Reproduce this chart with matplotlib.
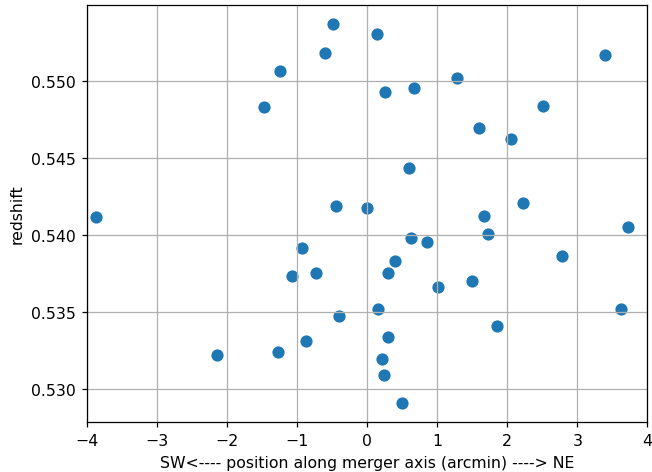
import numpy as np
import matplotlib
matplotlib.use('Agg')
import matplotlib.pyplot as plt

# position along merger axis (arcmin) and redshift of member galaxies
pos = [-3.87, -1.467, -1.249, -0.608, -0.494, 0.142, -0.446, 0.004,
       0.256, 0.665, 1.282, 3.390, 2.507, 1.600, 2.051, 0.594,
       2.232, 1.662, 3.718, 1.728, 0.622, 0.855, 2.788, 0.399,
       0.294, 1.491, 1.007, 0.161, 3.628, 1.857, 0.299, 0.218,
       0.238, 0.494, -0.926, -0.736, -1.078, -0.408, -0.874, -1.268,
       -2.137]
z = [0.54118, 0.54830, 0.55068, 0.55185, 0.55373, 0.55306, 0.54186, 0.54173,
     0.54927, 0.54957, 0.55020, 0.55170, 0.54838, 0.54693, 0.54626, 0.54433,
     0.54207, 0.54125, 0.54049, 0.54004, 0.53978, 0.53954, 0.53863, 0.53832,
     0.53752, 0.53698, 0.53663, 0.53518, 0.53518, 0.53410, 0.53334, 0.53193,
     0.53089, 0.52905, 0.53913, 0.53752, 0.53735, 0.53471, 0.53312, 0.53241,
     0.53219]

dpi = 113
fig, ax = plt.subplots(figsize=(652/dpi, 473/dpi), dpi=dpi)
fig.subplots_adjust(left=0.1334, right=0.9928, top=0.988, bottom=0.105)

ax.scatter(pos, z, s=46, color='#1f77b4')
ax.set_xlim(-4, 4)
ax.set_xlabel('SW<---- position along merger axis (arcmin) ----> NE')
ax.set_ylabel('redshift')
ax.grid(True)

fig.savefig('out.png', dpi=dpi)
